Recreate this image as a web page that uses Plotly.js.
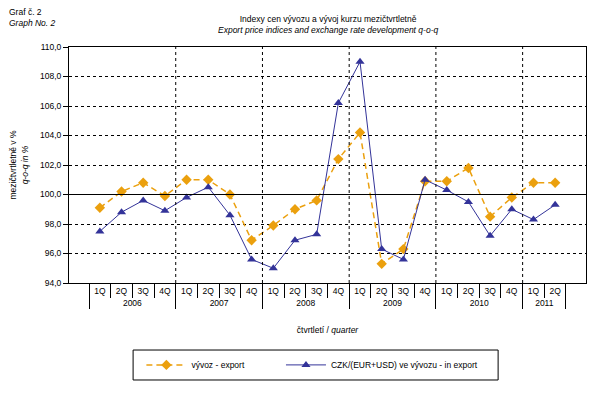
<!DOCTYPE html>
<html><head><meta charset="utf-8">
<script src="https://cdn.plot.ly/plotly-3.0.1.min.js"></script>
<style>body{margin:0;background:#fff}#c{width:601px;height:412px}</style>
</head><body><div id="c"></div>
<script>
const years = ["2006","2006","2006","2006","2007","2007","2007","2007","2008","2008","2008","2008","2009","2009","2009","2009","2010","2010","2010","2010","2011","2011"];
const quarters = ["1Q","2Q","3Q","4Q","1Q","2Q","3Q","4Q","1Q","2Q","3Q","4Q","1Q","2Q","3Q","4Q","1Q","2Q","3Q","4Q","1Q","2Q"];
const exportIdx = [99.1,100.2,100.8,99.9, 101.0,101.0,100.0,96.9, 97.9,99.0,99.6,102.4, 104.2,95.3,96.3,100.9, 100.9,101.8,98.5,99.8, 100.8,100.8];
const fxIdx = [97.5,98.8,99.6,98.9, 99.8,100.5,98.6,95.6, 95.0,96.9,97.3,106.2, 109.0,96.3,95.6,101.0, 100.3,99.5,97.2,99.0, 98.3,99.3];
const seriesNames = ["vývoz - export","CZK/(EUR+USD) ve vývozu - in export"];

const F = "Liberation Sans, Arial, sans-serif";
const FS = 8.5;
const ORANGE = "#EBA00E", BLUE = "#333399";
const traces = [
  {x:[years,quarters], y:exportIdx, name:seriesNames[0], type:"scatter", mode:"lines+markers", legend:"legend",
   line:{color:ORANGE, width:1.5, dash:"6px,4px"}, marker:{symbol:"diamond", size:8, color:ORANGE}},
  {x:[years,quarters], y:fxIdx, name:seriesNames[1], type:"scatter", mode:"lines+markers", legend:"legend2",
   line:{color:BLUE, width:1}, marker:{symbol:"triangle-up", size:8, color:BLUE}}
];
const shapes = [];
for (let i=1;i<years.length;i++){
  if (years[i]!==years[i-1]) shapes.push({type:"line", xref:"x", yref:"paper", x0:i-0.5, x1:i-0.5, y0:0, y1:1, line:{color:"#000", width:1, dash:"3px,3px"}});
}
shapes.push({type:"line", xref:"paper", yref:"y", x0:0, x1:1, y0:100, y1:100, line:{color:"#000", width:1.2}});
// legend frame
shapes.push({type:"rect", xref:"paper", yref:"paper", x0:0.124, x1:0.830, y0:-0.411, y1:-0.284, line:{color:"#000", width:1}, fillcolor:"rgba(0,0,0,0)"});

const legBase = {orientation:"h", xanchor:"left", y:-0.347, yanchor:"middle", borderwidth:0, bgcolor:"rgba(0,0,0,0)",
                 font:{family:F, size:FS}, itemwidth:40, valign:"middle"};
const layout = {
  width:601, height:412, margin:{l:69, r:15, t:47, b:129, autoexpand:false},
  paper_bgcolor:"#fff", plot_bgcolor:"#fff",
  separators:", ",
  font:{family:F, size:FS, color:"#000"},
  showlegend:true,
  legend:Object.assign({}, legBase, {x:0.14}),
  legend2:Object.assign({}, legBase, {x:0.41}),
  xaxis:{type:"multicategory", automargin:false, showline:true, linecolor:"#000", linewidth:1, mirror:true,
         showgrid:false, showdividers:true, dividercolor:"#000", dividerwidth:1,
         tickson:"boundaries", ticks:"outside", ticklen:14, tickcolor:"#000",
         tickfont:{family:F, size:FS},
         title:{text:"čtvrtletí / <i>quarter</i>", font:{family:F, size:FS}, standoff:19}},
  yaxis:{range:[94,110], dtick:2, tickformat:".1f", automargin:false, showline:true, linecolor:"#000", mirror:true,
         ticks:"outside", ticklen:5, tickcolor:"#000", showgrid:true, gridcolor:"#000", griddash:"3px,3px", gridwidth:1,
         zeroline:false, tickfont:{family:F, size:FS},
         title:{text:"mezičtvrtletně v %<br><i>q-o-q in %</i>", font:{family:F, size:FS}, standoff:10}},
  shapes:shapes,
  annotations:[
    {xref:"paper", yref:"paper", x:-0.12, y:1.072, xanchor:"left", yanchor:"bottom", showarrow:false, align:"left",
     text:"Graf č. 2<br><i>Graph No. 2</i>", font:{family:F, size:FS}},
    {xref:"paper", yref:"paper", x:0.5, y:1.042, xanchor:"center", yanchor:"bottom", showarrow:false, align:"center",
     text:"Indexy cen vývozu a vývoj kurzu mezičtvrtletně<br><i>Export price indices and exchange rate development q-o-q</i>", font:{family:F, size:FS}}
  ]
};
Plotly.newPlot("c", traces, layout, {displayModeBar:false, staticPlot:true});
</script></body></html>
